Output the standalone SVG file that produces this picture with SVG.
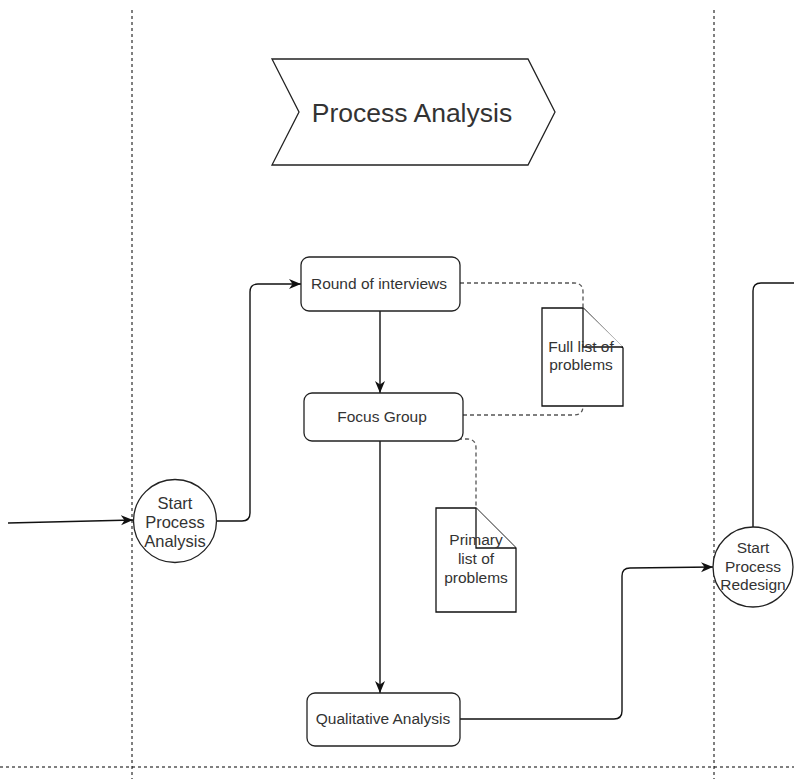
<svg xmlns="http://www.w3.org/2000/svg" width="794" height="779" viewBox="0 0 794 779">
  <style>
    .lane { stroke: #000; stroke-width: 1; stroke-dasharray: 3 3; fill: none; }
    .node { fill: #fff; stroke: #222; stroke-width: 1.3; }
    .doc { fill: #fff; stroke: #111; stroke-width: 1.3; }
    .label { font-family: "Liberation Sans", Arial, sans-serif; font-size: 15.5px; fill: #333; text-anchor: middle; }
    .event { font-size: 16.5px; }
    .title { font-family: "Liberation Sans", Arial, sans-serif; font-size: 26.5px; fill: #333; text-anchor: middle; }
    .flow { fill: none; stroke: #111; stroke-width: 1.4; }
    .assoc { fill: none; stroke: #555; stroke-width: 1.3; stroke-dasharray: 4 3; }
  </style>
  <defs>
    <marker id="arrow" viewBox="0 0 12 12" refX="12" refY="6" markerWidth="12" markerHeight="12" markerUnits="userSpaceOnUse" orient="auto">
      <path d="M0,1 L12,6 L0,11 L3.5,6 Z" fill="#111"/>
    </marker>
  </defs>
  <rect width="794" height="779" fill="#fff"/>

  <!-- swimlane separators -->
  <g id="lanes">
    <line class="lane" x1="132" y1="10" x2="132" y2="779"/>
    <line class="lane" x1="714" y1="10" x2="714" y2="779"/>
    <line class="lane" x1="0" y1="767" x2="794" y2="767"/>
  </g>

  <!-- phase header -->
  <g id="phase-header">
    <polygon class="node" points="272,59 528,59 555,112 528,165 272,165 299,112"/>
    <text class="title" x="412" y="122">Process Analysis</text>
  </g>

  <!-- connectors -->
  <g id="connectors">
    <path class="flow" d="M8,523 L133,520" marker-end="url(#arrow)"/>
    <path class="flow" d="M217,521 L242,521 Q250,521 250,513 L250,292 Q250,284 258,284 L301,284" marker-end="url(#arrow)"/>
    <path class="flow" d="M380,311 L380,393" marker-end="url(#arrow)"/>
    <path class="flow" d="M380,441 L380,693" marker-end="url(#arrow)"/>
    <path class="flow" d="M460,719 L614,719 Q622,719 622,711 L622,576 Q622,568 630,568 L713,567" marker-end="url(#arrow)"/>
    <path class="flow" d="M753,527 L753,291 Q753,283 761,283 L794,283"/>
    <path class="assoc" d="M460,283 L574,283 Q583,283 583,292 L583,308"/>
    <path class="assoc" d="M463,415 L574,415 Q583,415 583,406"/>
    <path class="assoc" d="M423,439 L467,439 Q476,439 476,448 L476,508"/>
  </g>

  <!-- process analysis start event -->
  <g id="start-process-analysis">
    <circle class="node" cx="175" cy="521" r="41.5"/>
    <text class="label event" x="175" y="509">Start</text>
    <text class="label event" x="175" y="528">Process</text>
    <text class="label event" x="175" y="547">Analysis</text>
  </g>

  <g id="round-of-interviews">
    <rect class="node" x="301" y="257" width="159" height="54" rx="8"/>
    <text class="label" x="379" y="289">Round of interviews</text>
  </g>

  <g id="focus-group">
    <rect class="node" x="304" y="393" width="159" height="48" rx="8"/>
    <text class="label" x="382" y="422">Focus Group</text>
  </g>

  <g id="qualitative-analysis">
    <rect class="node" x="307" y="693" width="153" height="53" rx="8"/>
    <text class="label" x="383" y="724">Qualitative Analysis</text>
  </g>

  <!-- data documents -->
  <g id="full-list-of-problems">
    <path class="doc" d="M542,308 L583,308 L623,348 L623,406 L542,406 Z"/>
    <path class="doc" fill="none" d="M583,308 L583,347 L623,347"/>
    <text class="label" x="581" y="352">Full list of</text>
    <text class="label" x="581" y="370">problems</text>
  </g>

  <g id="primary-list-of-problems">
    <path class="doc" d="M436,508 L476,508 L516,548 L516,612 L436,612 Z"/>
    <path class="doc" fill="none" d="M476,508 L476,548 L516,548"/>
    <text class="label" x="476" y="545">Primary</text>
    <text class="label" x="476" y="564">list of</text>
    <text class="label" x="476" y="583">problems</text>
  </g>

  <!-- process redesign start event -->
  <g id="start-process-redesign">
    <circle class="node" cx="753" cy="567" r="40"/>
    <text class="label" x="753" y="553">Start</text>
    <text class="label" x="753" y="572">Process</text>
    <text class="label" x="753" y="590">Redesign</text>
  </g>
</svg>
